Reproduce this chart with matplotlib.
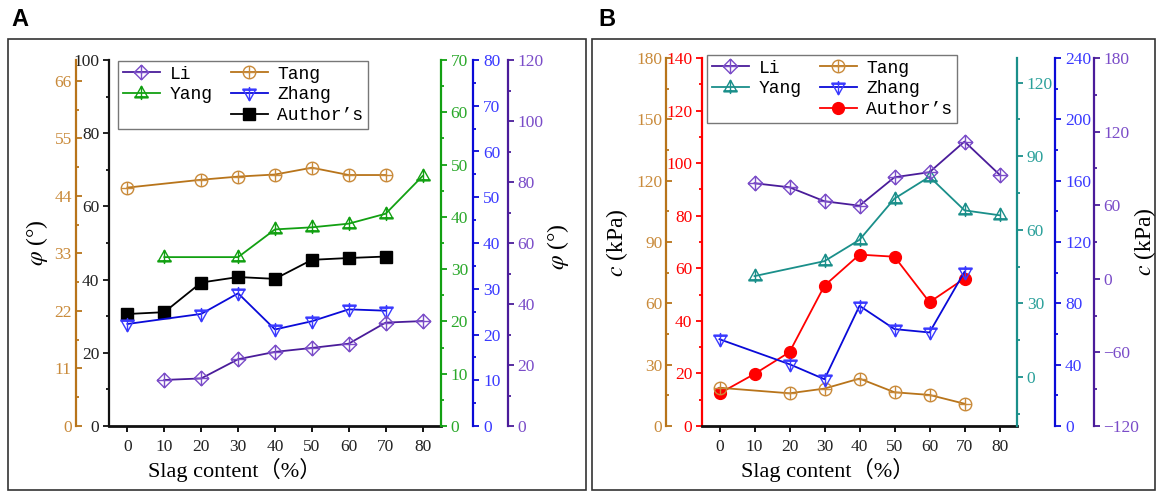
import matplotlib

matplotlib.use("Agg")
import matplotlib.pyplot as plt
from matplotlib.lines import Line2D
from matplotlib.patches import Rectangle
from matplotlib.path import Path
from matplotlib.ticker import MultipleLocator

plt.rcParams["font.family"] = ["Liberation Serif", "Noto Sans CJK SC"]
plt.rcParams["mathtext.fontset"] = "stix"

# --- Panel A: internal friction angle (deg) ---
x_li_a = [10, 20, 30, 40, 50, 60, 70, 80]
phi_li = [15.1, 15.6, 21.9, 24.3, 25.6, 27.0, 33.9, 34.4]
x_tang_a = [0, 20, 30, 40, 50, 60, 70]
phi_tang = [45.6, 47.1, 47.7, 48.1, 49.4, 48.0, 48.0]
x_yang_a = [10, 30, 40, 50, 60, 70, 80]
phi_yang = [32.3, 32.3, 37.6, 38.0, 38.7, 40.6, 47.8]
x_zhang_a = [0, 20, 30, 40, 50, 60, 70]
phi_zhang = [22.3, 24.5, 29.0, 21.1, 22.9, 25.5, 25.2]
x_author_a = [0, 10, 20, 30, 40, 50, 60, 70]
phi_author = [30.6, 31.1, 39.2, 40.7, 40.2, 45.4, 45.9, 46.3]

# --- Panel B: cohesion (kPa) ---
x_li_b = [10, 20, 30, 40, 50, 60, 70, 80]
c_li = [77.9, 74.6, 63.2, 59.6, 82.8, 86.9, 111.9, 84.9]
x_tang_b = [0, 20, 30, 40, 50, 60, 70]
c_tang = [18.7, 16.0, 18.3, 23.2, 16.5, 15.2, 10.9]
x_yang_b = [10, 30, 40, 50, 60, 70, 80]
c_yang = [41.1, 47.2, 55.9, 72.7, 81.6, 67.9, 65.9]
x_zhang_b = [0, 20, 30, 40, 50, 60, 70]
c_zhang = [56.6, 40.3, 30.5, 78.4, 63.2, 61.0, 100.6]
x_author_b = [0, 10, 20, 30, 40, 50, 60, 70]
c_author = [12.4, 19.8, 28.1, 53.4, 65.2, 64.4, 47.1, 56.1]

x_ticks = [0, 10, 20, 30, 40, 50, 60, 70, 80]
labels = ["Li", "Yang", "", "Tang", "Zhang", "Author\u2019s"]

PURPLE, PURPLE_T = "#4a1c9a", "#7a4cc8"
BROWN, BROWN_T = "#b8741a", "#c98a3a"
GREEN, GREEN_T = "#12a012", "#2aa82a"
TEAL, TEAL_T = "#1a8f8a", "#2aa09a"
BLUE, BLUE_T = "#0a0ad8", "#3a3aff"
RED = "#ff0000"

M, L, C = Path.MOVETO, Path.LINETO, Path.CLOSEPOLY


def with_plus(verts, codes, h=(-1, 1, 0), v=(-1, 1, 0)):
    # outline shape plus a cross drawn through it
    verts = list(verts) + [(h[0], h[2]), (h[1], h[2]), (v[2], v[0]), (v[2], v[1])]
    codes = list(codes) + [M, L, M, L]
    return Path(verts, codes)


circ = Path.unit_circle()
MK_DIAMOND = with_plus([(0, -1), (1, 0), (0, 1), (-1, 0), (0, -1)], [M, L, L, L, C])
MK_CIRCLE = with_plus(circ.vertices, circ.codes)
MK_TRI_UP = with_plus(
    [(0, 1), (-0.9, -0.6), (0.9, -0.6), (0, 1)], [M, L, L, C],
    h=(-0.95, 0.95, -0.45), v=(-0.9, 1.0, 0),
)
MK_TRI_DOWN = with_plus(
    [(0, -1), (-0.9, 0.6), (0.9, 0.6), (0, -1)], [M, L, L, C],
    h=(-0.95, 0.95, 0.45), v=(-1.0, 0.9, 0),
)

TICK_SIZE = 12.5


def extra_axis(host, side, offset, ylim, major, minor, color, text_color, direction="out"):
    ax = host.twinx()
    for s in ax.spines.values():
        s.set_visible(False)
    sp = ax.spines[side]
    sp.set_visible(True)
    sp.set_position(("outward", offset))
    sp.set_color(color)
    sp.set_linewidth(1.6)
    ax.yaxis.set_ticks_position(side)
    ax.set_ylim(*ylim)
    ax.yaxis.set_major_locator(MultipleLocator(major))
    ax.yaxis.set_minor_locator(MultipleLocator(minor))
    ax.tick_params(axis="y", which="both", direction=direction, color=color,
                   labelcolor=text_color, labelsize=TICK_SIZE, width=1.3, pad=3)
    ax.tick_params(axis="y", which="major", length=4)
    ax.tick_params(axis="y", which="minor", length=2.5)
    return ax


def setup_main(ax, ylim, major, minor, color, text_color):
    ax.set_xlim(-5, 85)
    ax.set_ylim(*ylim)
    ax.spines["top"].set_visible(False)
    ax.spines["right"].set_visible(False)
    ax.spines["left"].set_color(color)
    ax.spines["left"].set_linewidth(1.6)
    ax.spines["bottom"].set_linewidth(2.0)
    ax.spines["bottom"].set_color("#111111")
    ax.set_xticks(x_ticks)
    ax.yaxis.set_major_locator(MultipleLocator(major))
    ax.yaxis.set_minor_locator(MultipleLocator(minor))
    ax.tick_params(axis="y", which="both", direction="out", color=color,
                   labelcolor=text_color, labelsize=TICK_SIZE, width=1.3, pad=3)
    ax.tick_params(axis="y", which="major", length=4)
    ax.tick_params(axis="y", which="minor", length=2.5)
    ax.tick_params(axis="x", direction="out", length=4, width=1.3,
                   labelsize=TICK_SIZE, labelcolor="#222222", pad=5)


def series(ax, x, y, line_color, mark_color, marker, ms, filled=False):
    (ln,) = ax.plot(
        x, y, color=line_color, lw=1.3, marker=marker, ms=ms,
        mec=mark_color, mfc=mark_color if filled else "none", mew=1.0,
        clip_on=False, zorder=3,
    )
    return ln


fig = plt.figure(figsize=(11.56, 4.94), dpi=100)

# ----- Panel A -----
axA = fig.add_axes([109 / 1156, 1 - 426 / 494, 332 / 1156, 366 / 494])
setup_main(axA, (0, 100), 20, 10, "#111111", "#222222")
a_tang = extra_axis(axA, "left", 23.8, (0, 70), 11, 5.5, BROWN, BROWN_T, direction="in")
a_yang = extra_axis(axA, "right", 0, (0, 70), 10, 5, GREEN, GREEN_T)
a_zhang = extra_axis(axA, "right", 23.3, (0, 80), 10, 5, BLUE, BLUE_T)
a_li = extra_axis(axA, "right", 48.0, (0, 120), 20, 10, PURPLE, PURPLE_T)

hA = [
    series(a_li, x_li_a, phi_li, PURPLE, PURPLE_T, MK_DIAMOND, 10.5),
    series(a_yang, x_yang_a, phi_yang, GREEN, GREEN, MK_TRI_UP, 10.5),
    Line2D([], [], color="none"),
    series(a_tang, x_tang_a, phi_tang, BROWN, BROWN_T, MK_CIRCLE, 9),
    series(a_zhang, x_zhang_a, phi_zhang, BLUE, BLUE_T, MK_TRI_DOWN, 10.5),
    series(axA, x_author_a, phi_author, "#000000", "#000000", "s", 8, filled=True),
]

# ----- Panel B -----
axB = fig.add_axes([702 / 1156, 1 - 426 / 494, 315 / 1156, 368 / 494])
setup_main(axB, (0, 140), 20, 10, RED, RED)
b_tang = extra_axis(axB, "left", 25.6, (0, 180), 30, 15, BROWN, BROWN_T, direction="in")
b_yang = extra_axis(axB, "right", 0, (-20, 130), 30, 15, TEAL, TEAL_T)
b_zhang = extra_axis(axB, "right", 27.6, (0, 240), 40, 20, BLUE, BLUE_T)
b_li = extra_axis(axB, "right", 55.2, (-120, 180), 60, 30, PURPLE, PURPLE_T)

hB = [
    series(b_li, x_li_b, c_li, PURPLE, PURPLE_T, MK_DIAMOND, 10.5),
    series(b_yang, x_yang_b, c_yang, TEAL, TEAL, MK_TRI_UP, 10.5),
    Line2D([], [], color="none"),
    series(b_tang, x_tang_b, c_tang, BROWN, BROWN_T, MK_CIRCLE, 9),
    series(b_zhang, x_zhang_b, c_zhang, BLUE, BLUE_T, MK_TRI_DOWN, 10.5),
    series(axB, x_author_b, c_author, RED, RED, "o", 8.5, filled=True),
]

for handles, anchor in [(hA, (118 / 1156, 1 - 61 / 494)), (hB, (707 / 1156, 1 - 55 / 494))]:
    fig.legend(
        handles, labels, ncol=2, loc="upper left", bbox_to_anchor=anchor,
        bbox_transform=fig.transFigure, borderaxespad=0, frameon=True,
        fancybox=False, edgecolor="#777777", framealpha=1,
        prop={"family": "Liberation Mono", "size": 13},
        handlelength=2.1, handletextpad=0.5, columnspacing=1.0,
        labelspacing=0.22, borderpad=0.25,
    )

# axis titles
fig.text(235 / 1156, 1 - 470 / 494, "Slag content\uff08%\uff09", ha="center", va="center", fontsize=16)
fig.text(828 / 1156, 1 - 470 / 494, "Slag content\uff08%\uff09", ha="center", va="center", fontsize=16)
fig.text(37 / 1156, 1 - 243 / 494, r"$\varphi$ (°)", rotation=90, ha="center", va="center", fontsize=17)
fig.text(558 / 1156, 1 - 247 / 494, r"$\varphi$ (°)", rotation=90, ha="center", va="center", fontsize=17)
fig.text(617 / 1156, 1 - 243 / 494, r"$c$ (kPa)", rotation=90, ha="center", va="center", fontsize=17)
fig.text(1145 / 1156, 1 - 242 / 494, r"$c$ (kPa)", rotation=90, ha="center", va="center", fontsize=17)

# panel letters and frames
fig.text(11 / 1156, 1 - 19 / 494, "A", ha="left", va="center", fontsize=17,
         fontweight="bold", family="Liberation Sans")
fig.text(598 / 1156, 1 - 19 / 494, "B", ha="left", va="center", fontsize=17,
         fontweight="bold", family="Liberation Sans")
fig.add_artist(Rectangle((8 / 1156, 4 / 494), 578 / 1156, 451 / 494,
                         transform=fig.transFigure, fill=False, ec="#333333", lw=1.2))
fig.add_artist(Rectangle((592 / 1156, 4 / 494), 563 / 1156, 451 / 494,
                         transform=fig.transFigure, fill=False, ec="#333333", lw=1.2))

fig.savefig("out.png", dpi=100)
